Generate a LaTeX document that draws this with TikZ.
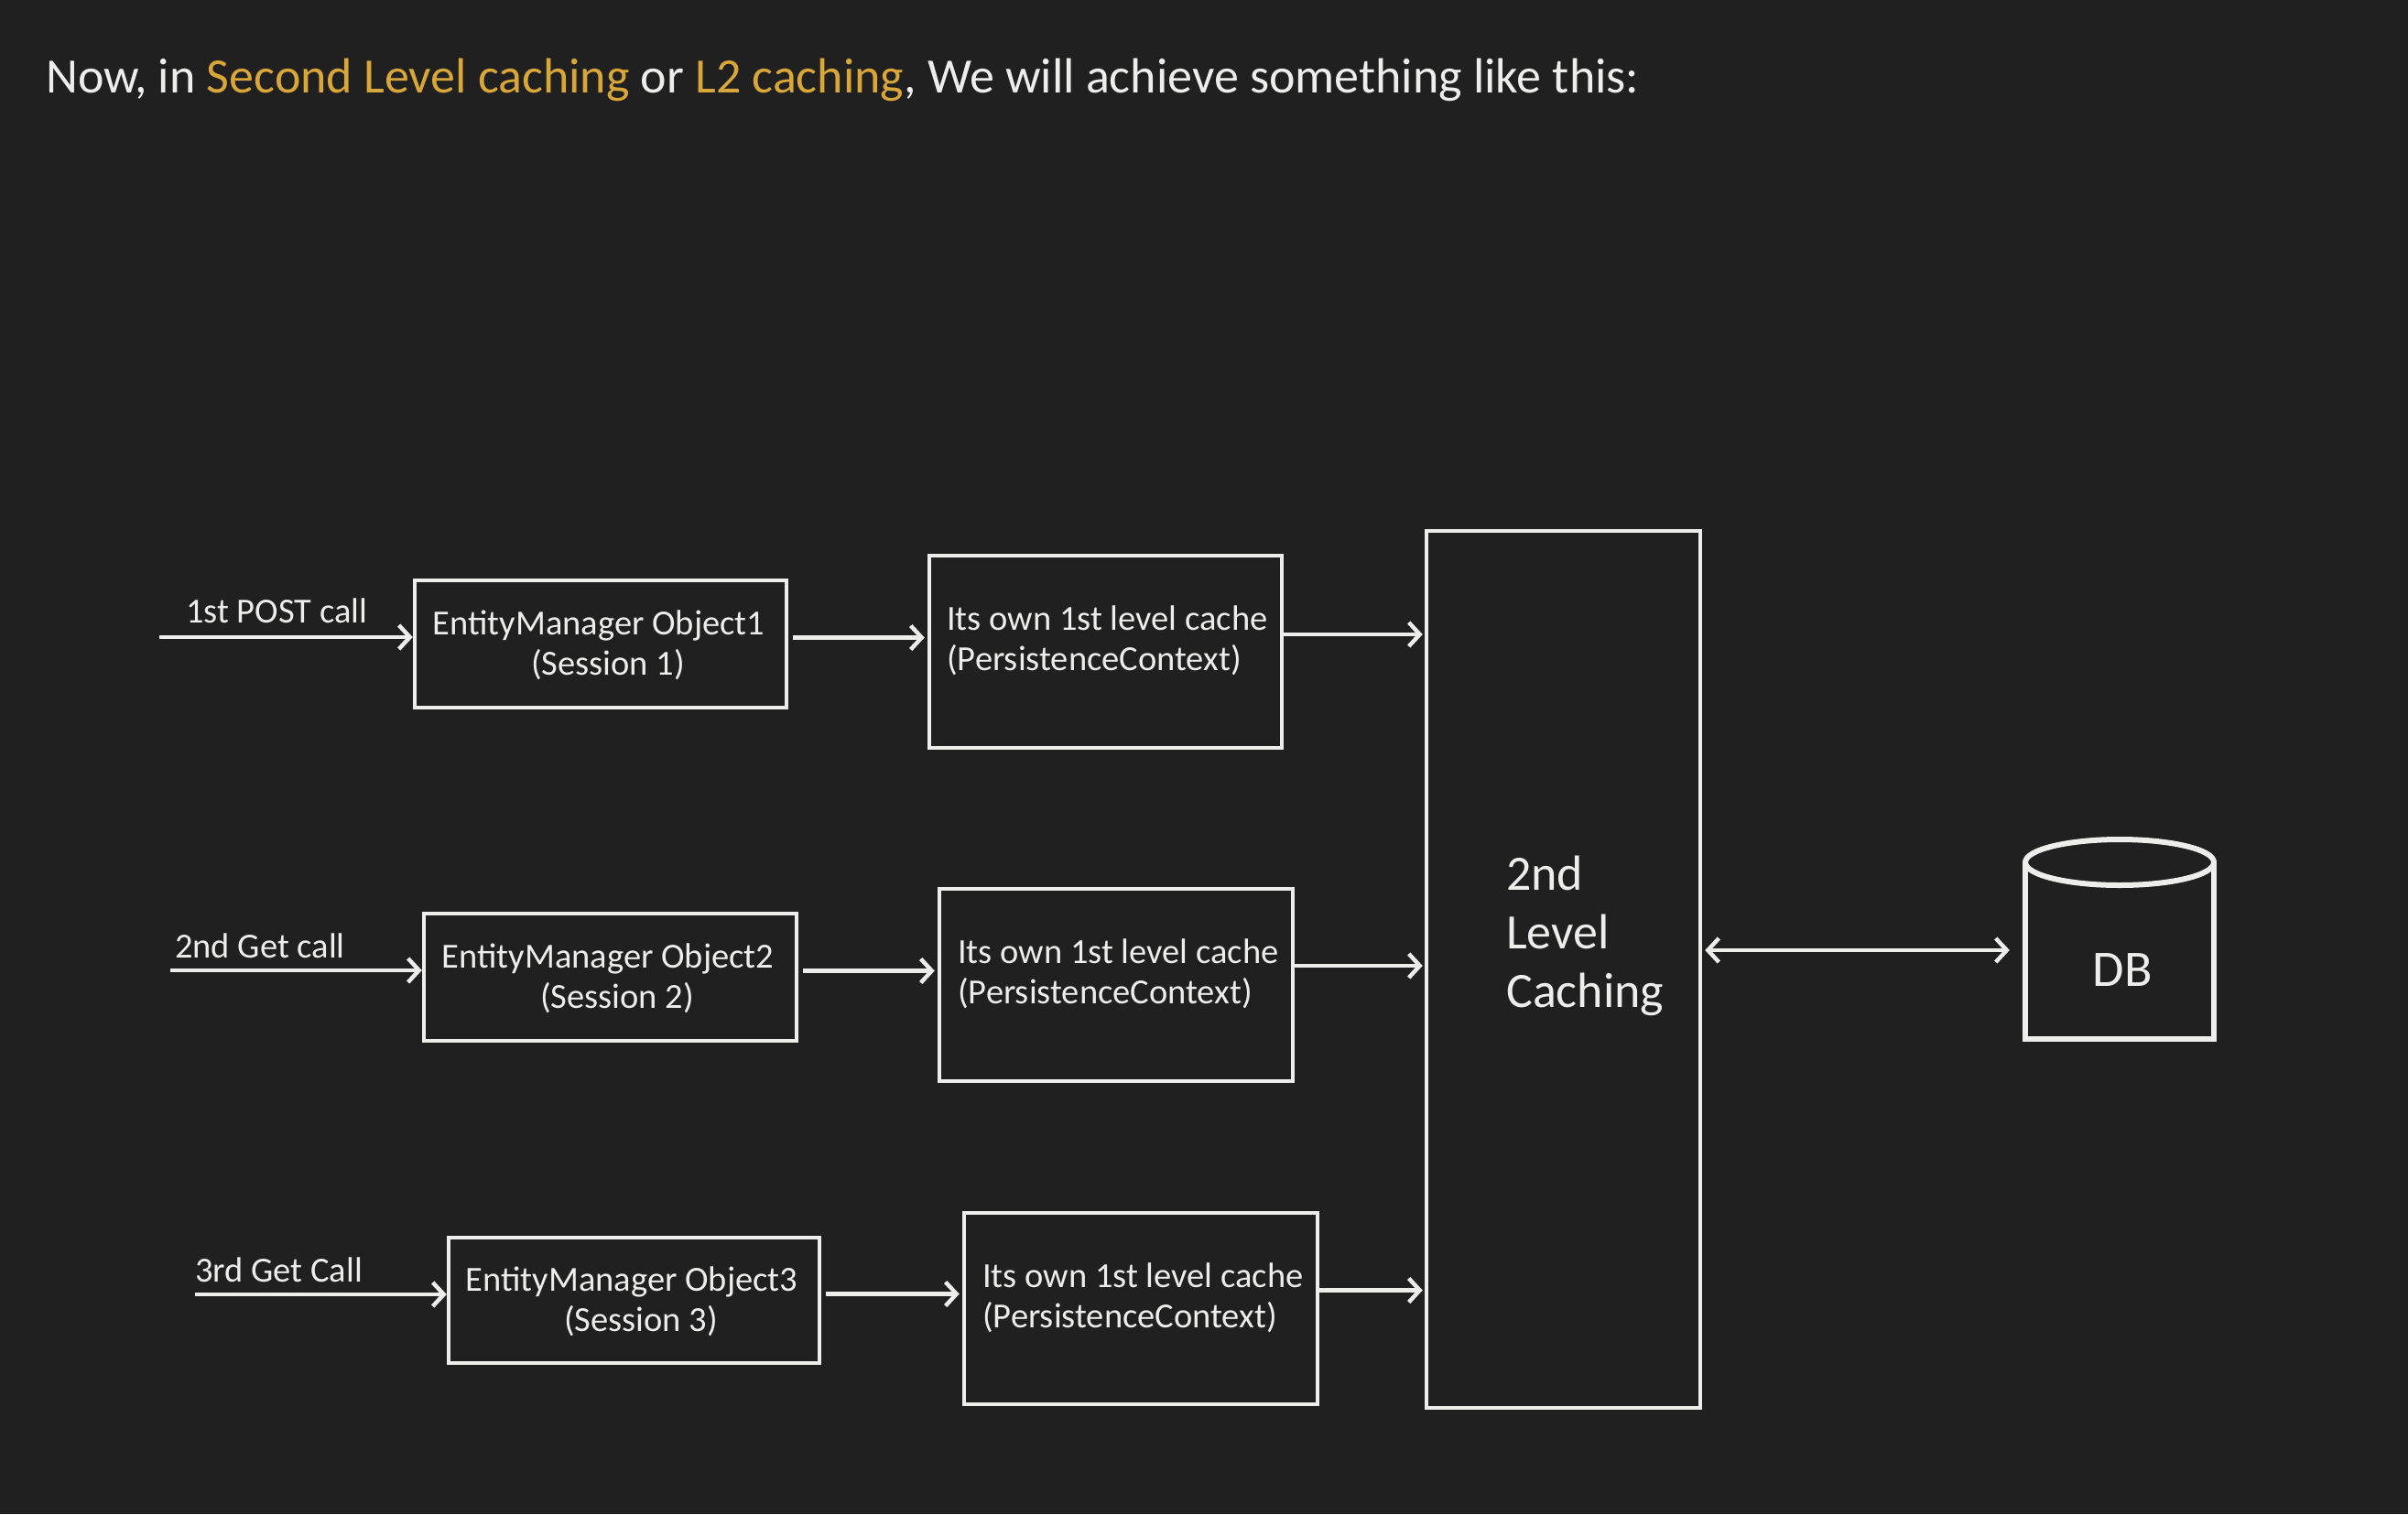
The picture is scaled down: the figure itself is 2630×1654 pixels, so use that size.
\documentclass[tikz,border=0pt]{standalone}
\usepackage{fontspec}
\setmainfont{Carlito}
\usetikzlibrary{arrows.meta,calc}
\definecolor{bgc}{HTML}{202020}
\definecolor{fgc}{HTML}{EDEDEB}
\definecolor{gold}{HTML}{D9A63A}
\begin{document}
\begin{tikzpicture}[x=1pt,y=-1pt,
  box/.style={draw=fgc,line width=4.5pt,inner sep=0pt},
  txt/.style={text=fgc,inner sep=0pt,font=\fontsize{38.5}{44}\selectfont},
  bigtxt/.style={text=fgc,inner sep=0pt,font=\fontsize{54}{64}\selectfont,align=left},
  arr/.style={draw=fgc,line width=4.5pt,-{Straight Barb[length=12pt,width=26pt]}},
  dbl/.style={draw=fgc,line width=4.5pt,{Straight Barb[length=12pt,width=26pt]}-{Straight Barb[length=12pt,width=26pt]}}
]
\fill[bgc] (0,0) rectangle (2630,1654);
\useasboundingbox (0,0) rectangle (2630,1654);

% title
\node[anchor=base west,inner sep=0pt,text=fgc,font=\fontsize{54}{64}\selectfont] (title) at (50,101)
  {Now, in \textcolor{gold}{Second Level caching} or \textcolor{gold}{L2 caching}, We will achieve something like this:};

% second level cache
\node[box,minimum width=299pt,minimum height=958pt] (l2) at (1707.5,1059) {};
\node[bigtxt,anchor=west] (l2t) at (1645,1022) {2nd\\Level\\Caching};

% DB cylinder
\node[minimum width=204pt,minimum height=193pt,inner sep=0pt] (db) at (2315,1038) {};
\draw[fgc,line width=6pt,line cap=round] (2212,942) -- (2212,1135) -- (2418,1135) -- (2418,942);
\draw[fgc,line width=6pt,fill=bgc] (2315,942) ellipse [x radius=103pt,y radius=25pt];
\node[text=fgc,inner sep=0pt,font=\fontsize{56}{64}\selectfont] (dbt) at (2318,1060) {DB};

% row 1
\node[box,minimum width=406pt,minimum height=139pt] (em1) at (656,703.5) {};
\node[txt,align=center] (em1t) at (654,705) {EntityManager Object1\\\hspace*{20pt}(Session 1)};
\node[box,minimum width=385pt,minimum height=210pt] (c1) at (1207.5,712) {};
\node[txt,align=left,anchor=west] (c1t) at (1034,700) {Its own 1st level cache\\(PersistenceContext)};
\node[txt,anchor=west] (l1) at (203,667) {1st POST call};
\coordinate (in1) at (174,696);

% row 2
\node[box,minimum width=407pt,minimum height=139pt] (em2) at (666.5,1067.5) {};
\node[txt,align=center] (em2t) at (664,1069) {EntityManager Object2\\\hspace*{20pt}(Session 2)};
\node[box,minimum width=386pt,minimum height=210pt] (c2) at (1219,1076) {};
\node[txt,align=left,anchor=west] (c2t) at (1046,1064) {Its own 1st level cache\\(PersistenceContext)};
\node[txt,anchor=west] (l2l) at (191,1033) {2nd Get call};
\coordinate (in2) at (186,1060);

% row 3
\node[box,minimum width=405pt,minimum height=137pt] (em3) at (692.5,1420.5) {};
\node[txt,align=center] (em3t) at (690,1422) {EntityManager Object3\\\hspace*{20pt}(Session 3)};
\node[box,minimum width=386pt,minimum height=209pt] (c3) at (1246,1429.5) {};
\node[txt,align=left,anchor=west] (c3t) at (1073,1418) {Its own 1st level cache\\(PersistenceContext)};
\node[txt,anchor=west] (l3) at (213,1387) {3rd Get Call};
\coordinate (in3) at (213,1414);

% connectors
\draw[arr] (in1) -- (in1 -| em1.west);
\draw[arr] (in2) -- (in2 -| em2.west);
\draw[arr] (in3) -- (in3 -| em3.west);

\coordinate (e1) at ([xshift=5pt,yshift=7pt]em1.east);
\coordinate (e2) at ([xshift=5pt,yshift=7pt]em2.east);
\coordinate (e3) at ([xshift=5pt,yshift=7pt]em3.east);
\draw[arr,shorten >=3pt] (e1) -- (e1 -| c1.west);
\draw[arr,shorten >=3pt] (e2) -- (e2 -| c2.west);
\draw[arr,shorten >=3pt] (e3) -- (e3 -| c3.west);

\coordinate (f1) at ([yshift=19pt]c1.east);
\coordinate (f2) at ([yshift=21pt]c2.east);
\coordinate (f3) at ([yshift=20pt]c3.east);
\draw[arr,shorten >=2pt] (f1) -- (f1 -| l2.west);
\draw[arr,shorten >=2pt] (f2) -- (f2 -| l2.west);
\draw[arr,shorten >=2pt] (f3) -- (f3 -| l2.west);

\draw[dbl,shorten <=3pt,shorten >=18pt] (l2.east |- db.west) -- (db.west);
\end{tikzpicture}
\end{document}
